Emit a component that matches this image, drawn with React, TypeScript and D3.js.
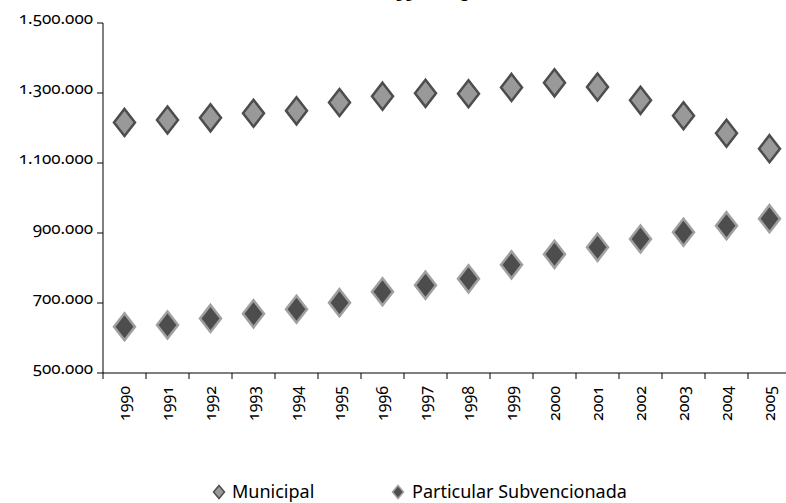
import React from "react";
import * as d3 from "d3";

const years = ["1990","1991","1992","1993","1994","1995","1996","1997","1998","1999","2000","2001","2002","2003","2004","2005"];
const municipal = [1216000,1223000,1229000,1242000,1249000,1273000,1291000,1299000,1298000,1316000,1329000,1317000,1279000,1235000,1185000,1141000];
const particular = [632000,637000,656000,669000,682000,701000,732000,751000,769000,809000,839000,859000,883000,902000,921000,941000];
const yTicks = [500000,700000,900000,1100000,1300000,1500000];
const seriesNames = ["Municipal","Particular Subvencionada"];

const W = 786, H = 503;
const FONT = "'Noto Sans', sans-serif";

function fmt(v: number) {
  return d3.format(",")(v).replace(/,/g, ".");
}

function Diamond({ cx, cy, hw, hh, fill, stroke, sw }: any) {
  const p = `M${cx},${cy - hh}L${cx + hw},${cy}L${cx},${cy + hh}L${cx - hw},${cy}Z`;
  return <path d={p} fill={fill} stroke={stroke} strokeWidth={sw} strokeLinejoin="miter" />;
}

export default function App() {
  const x = d3.scaleBand<string>().domain(years).range([103, 791]);
  const y = d3.scaleLinear().domain([500000, 1500000]).range([373, 23]);
  const styles = [
    { fill: "#999999", stroke: "#4d4d4d" },
    { fill: "#4d4d4d", stroke: "#a0a0a0" },
  ];
  const data = [municipal, particular];
  return (
    <svg width={W} height={H} style={{ position: "absolute", left: 0, top: 0, fontFamily: FONT, fontVariantNumeric: "oldstyle-nums" }}>
      <rect width={W} height={H} fill="#fff" />
      <text x={385} y={-2} textAnchor="middle" fontSize={17} fontWeight="bold" fill="#000">Matrícula 1990-2005</text>
      {/* y axis */}
      <line x1={103} x2={103} y1={23} y2={373} stroke="#000" strokeWidth={1} />
      {yTicks.map((t) => (
        <g key={t}>
          <line x1={97} x2={103} y1={y(t)} y2={y(t)} stroke="#000" />
          <text x={93} y={y(t)} dy="0.05em" textAnchor="end" fontSize={17} fill="#000">{fmt(t)}</text>
        </g>
      ))}
      {/* x axis */}
      <line x1={103} x2={W} y1={373} y2={373} stroke="#000" />
      {years.map((yr, i) => (
        <g key={yr}>
          <line x1={x(yr)!} x2={x(yr)!} y1={373} y2={379} stroke="#000" />
          <text transform={`translate(${x(yr)! + x.bandwidth() / 2 + 5},386) rotate(-90)`} textAnchor="end" fontSize={16} fill="#000">{yr}</text>
        </g>
      ))}
      {data.map((s, si) => (
        <g key={si}>
          {s.map((v, i) => (
            <Diamond key={i} cx={x(years[i])! + x.bandwidth() / 2} cy={y(v)} hw={10.5} hh={13.5} fill={styles[si].fill} stroke={styles[si].stroke} sw={2.5} />
          ))}
        </g>
      ))}
      {/* legend */}
      <Diamond cx={219} cy={492} hw={5.5} hh={6.5} fill={styles[0].fill} stroke={styles[0].stroke} sw={1.5} />
      <text x={232} y={498} fontSize={18} fill="#000">{seriesNames[0]}</text>
      <Diamond cx={398} cy={492} hw={5.5} hh={6.5} fill={styles[1].fill} stroke={styles[1].stroke} sw={1.5} />
      <text x={412} y={498} fontSize={18} fill="#000">{seriesNames[1]}</text>
    </svg>
  );
}
